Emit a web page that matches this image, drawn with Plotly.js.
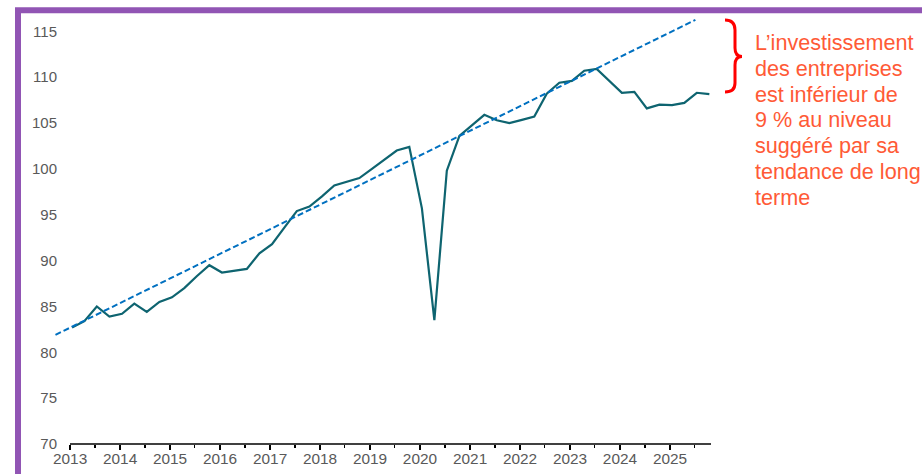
<!DOCTYPE html>
<html>
<head>
<meta charset="utf-8">
<script src="https://cdn.plot.ly/plotly-3.0.1.min.js"></script>
<style>
html,body{margin:0;padding:0;background:#fff;}
#chart{width:922px;height:474px;}
</style>
</head>
<body>
<div id="chart"></div>
<script>
// ---- data ----
const quarters = [
  "2013-01-15","2013-04-15","2013-07-15","2013-10-15",
  "2014-01-15","2014-04-15","2014-07-15","2014-10-15",
  "2015-01-15","2015-04-15","2015-07-15","2015-10-15",
  "2016-01-15","2016-04-15","2016-07-15","2016-10-15",
  "2017-01-15","2017-04-15","2017-07-15","2017-10-15",
  "2018-01-15","2018-04-15","2018-07-15","2018-10-15",
  "2019-01-15","2019-04-15","2019-07-15","2019-10-15",
  "2020-01-15","2020-04-15","2020-07-15","2020-10-15",
  "2021-01-15","2021-04-15","2021-07-15","2021-10-15",
  "2022-01-15","2022-04-15","2022-07-15","2022-10-15",
  "2023-01-15","2023-04-15","2023-07-15","2023-10-15",
  "2024-01-15","2024-04-15","2024-07-15","2024-10-15",
  "2025-01-15","2025-04-15","2025-07-15","2025-10-15"
];
const investment = [
  82.7, 83.4, 85.0, 83.9,
  84.2, 85.3, 84.4, 85.5,
  86.0, 87.0, 88.3, 89.5,
  88.7, 88.9, 89.1, 90.8,
  91.8, 93.6, 95.4, 95.9,
  97.0, 98.2, 98.6, 99.0,
  100.0, 101.0, 102.0, 102.4,
  95.7, 83.5, 99.8, 103.6,
  104.8, 105.9, 105.3, 105.0,
  105.35, 105.7, 108.2, 109.4,
  109.6, 110.7, 110.9, 109.6,
  108.3, 108.4, 106.6, 107.0,
  106.95, 107.2, 108.3, 108.15
];
const trendDates = ["2012-09-16", "2025-07-05"];
const trendValues = [81.9, 116.25];
const yTickValues = [70, 75, 80, 85, 90, 95, 100, 105, 110, 115];
const yTickLabels = ["70", "75", "80", "85", "90", "95", "100", "105", "110", "115"];
const noteLines = [
  "L’investissement",
  "des entreprises",
  "est inférieur de",
  "9 % au niveau",
  "suggéré par sa",
  "tendance de long",
  "terme"
];

// ---- layout helpers (pixel -> paper) ----
const W = 922, H = 474;
const M = {l: 50, r: 211, t: 13, b: 30};
const PW = W - M.l - M.r, PH = H - M.t - M.b;
const px = x => (x - M.l) / PW;
const py = y => (H - M.b - y) / PH;
const pt = (x, y) => px(x).toFixed(5) + "," + py(y).toFixed(5);

const bracePath =
  "M" + pt(725, 20) +
  " Q" + pt(735, 20) + " " + pt(735, 30) +
  " L" + pt(735, 48) +
  " Q" + pt(735, 56.5) + " " + pt(742, 56.5) +
  " Q" + pt(735, 56.5) + " " + pt(735, 65) +
  " L" + pt(735, 83) +
  " Q" + pt(735, 92) + " " + pt(725, 92);

const FONT = "Arial, 'Liberation Sans', sans-serif";
const noteBaselines = [50, 76, 101.7, 127.4, 153.1, 178.8, 204.5];

const annotations = noteLines.map((t, i) => ({
  text: t, xref: "paper", yref: "paper",
  x: px(752.5), y: py(noteBaselines[i] - 7.5),
  xanchor: "left", yanchor: "middle", showarrow: false,
  font: {family: FONT, size: 21.6, color: "#FF5A36"}
}));

const traces = [
  {
    x: quarters, y: investment, type: "scatter", mode: "lines",
    line: {color: "#0E6470", width: 2.2}, hoverinfo: "skip"
  },
  {
    x: trendDates, y: trendValues, type: "scatter", mode: "lines",
    line: {color: "#0070C0", width: 2, dash: "6px,3px"}, hoverinfo: "skip"
  }
];

const layout = {
  width: W, height: H,
  margin: M,
  paper_bgcolor: "#fff", plot_bgcolor: "#fff",
  showlegend: false,
  font: {family: FONT, size: 15, color: "#595959"},
  xaxis: {
    type: "date",
    range: ["2012-08-07", "2025-10-27"],
    tick0: "2013-01-01", dtick: "M12", tickformat: "%Y",
    ticks: "outside", ticklen: 5, tickwidth: 1.3, tickcolor: "#000",
    minor: {dtick: "M6", ticks: "outside", ticklen: 3, tickwidth: 1.3, tickcolor: "#000", showgrid: false},
    showgrid: false, zeroline: false, showline: false,
    ticklabelstandoff: -4,
    tickfont: {family: FONT, size: 15.4, color: "#595959"},
    fixedrange: true
  },
  yaxis: {
    range: [70, 117],
    tickmode: "array", tickvals: yTickValues, ticktext: yTickLabels,
    ticks: "", showgrid: false, zeroline: false, showline: false,
    ticklabelstandoff: -8,
    tickfont: {family: FONT, size: 15, color: "#595959"},
    fixedrange: true
  },
  shapes: [
    {type: "line", xref: "paper", yref: "paper", x0: px(70), x1: 1, y0: 0, y1: 0,
     line: {color: "#000", width: 1.3}},
    {type: "rect", xref: "paper", yref: "paper",
     x0: px(18), x1: px(960), y0: py(10.2), y1: py(520),
     line: {color: "#9155B4", width: 6}, fillcolor: "rgba(0,0,0,0)"},
    {type: "path", xref: "paper", yref: "paper", path: bracePath,
     line: {color: "#FF0000", width: 3}}
  ],
  annotations: annotations
};

Plotly.newPlot("chart", traces, layout, {displayModeBar: false, staticPlot: true});
</script>
</body>
</html>
